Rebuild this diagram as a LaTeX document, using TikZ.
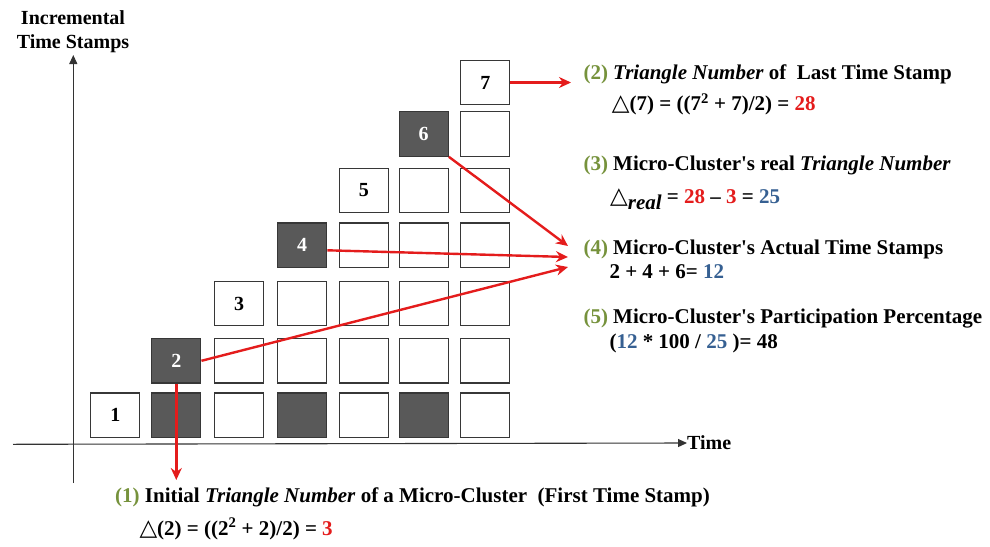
\documentclass[tikz,border=0pt]{standalone}
\usepackage{fontspec}
\setmainfont{Liberation Serif}[Ligatures=TeXOff]
\newfontfamily\djv{DejaVu Sans}
\usetikzlibrary{arrows.meta}
\definecolor{redA}{RGB}{228,28,28}
\definecolor{blueA}{RGB}{54,96,146}
\definecolor{greenA}{RGB}{118,146,60}
\definecolor{darkbox}{RGB}{89,89,89}
\definecolor{edgeC}{RGB}{55,55,55}
\newcommand{\tri}{{\djv\mdseries\fontsize{23}{23}\selectfont △}}
\begin{document}
\begin{tikzpicture}[x=1pt,y=-1pt,
  cell/.style={draw=edgeC, line width=1.3pt, minimum width=49pt, minimum height=44.5pt, inner sep=0pt, font=\fontsize{20}{20}\selectfont\bfseries},
  redarrow/.style={draw=redA, line width=2.4pt, -{Stealth[length=12pt,width=11pt]}},
  axis/.style={draw=black!80, line width=1.1pt, -{Triangle[length=9pt,width=8pt]}},
  txt/.style={anchor=base west, inner sep=0pt, font=\fontsize{21}{21}\selectfont\bfseries},
  ttl/.style={align=center, inner sep=0pt, font=\fontsize{20}{24}\selectfont\bfseries}]
\useasboundingbox (0,0) rectangle (990,546);
% axes and labels
\node[ttl] (title) at (73,32) {Incremental\\Time Stamps};
\node[anchor=west, inner sep=0pt, font=\fontsize{20}{20}\selectfont\bfseries] (time) at (687,443) {Time};
\coordinate (ybot) at (73.3,483);
\coordinate (xleft) at (13,444.3);
\draw[axis] (ybot) -- (73.3,55);
\draw[axis] (xleft) -- (time.west);
% cells
\foreach \c/\x in {1/115.3,2/176.3,3/239.2,4/302.2,5/363.8,6/423.7,7/485.3}{
  \foreach \r/\y in {1/415.2,2/360.8,3/303.5,4/245.3,5/190.5,6/133.9,7/82.5}{
    \ifnum\r>\c\relax\else
      \def\fc{white}\def\tc{black}
      \ifodd\c\else
        \ifnum\r=1 \def\fc{darkbox}\fi
        \ifnum\r=\c \def\fc{darkbox}\def\tc{white}\fi
      \fi
      \ifnum\r=\c \edef\lb{\c}\else\def\lb{}\fi
      \node[cell, fill=\fc, text=\tc] (b\c\r) at (\x,\y) {\lb};
    \fi
  }
}
% text blocks
\node[txt] (t2a) at (583.3,79.3) {\textcolor{greenA}{(2)} \textit{Triangle Number} of\ \ Last Time Stamp};
\node[txt] (t2b) at (611.7,110.7) {\tri(7) = ((7\textsuperscript{2} + 7)/2) = \textcolor{redA}{28}};
\node[txt] (t3a) at (583.3,170) {\textcolor{greenA}{(3)} Micro-Cluster's real \textit{Triangle Number}};
\node[txt] (t3b) at (610,203.3) {\tri\raisebox{-6pt}{\textit{real}} = \textcolor{redA}{28} – \textcolor{redA}{3} = \textcolor{blueA}{25}};
\node[txt] (t4a) at (583.3,254.3) {\textcolor{greenA}{(4)} Micro-Cluster's Actual Time Stamps};
\node[txt] (t4b) at (609.3,278.3) {2 + 4 + 6= \textcolor{blueA}{12}};
\node[txt] (t5a) at (583.3,323.3) {\textcolor{greenA}{(5)} Micro-Cluster's Participation Percentage};
\node[txt] (t5b) at (609.3,348.3) {(\textcolor{blueA}{12} * 100 / \textcolor{blueA}{25} )= 48};
\node[txt] (t1a) at (115,502.7) {\textcolor{greenA}{(1)} Initial \textit{Triangle Number} of a Micro-Cluster\ \ (First Time Stamp)};
\node[txt] (t1b) at (139.3,535) {\tri(2) = ((2\textsuperscript{2} + 2)/2) = \textcolor{redA}{3}};
% red arrows
\coordinate (e7) at (571,82.5);
\coordinate (e6) at (568,246);
\coordinate (e4) at (568,257);
\coordinate (e2) at (568,267);
\coordinate (e1) at (176.3,480);
\draw[redarrow] (b77.east) -- (e7);
\draw[redarrow] (b66.south east) -- (e6);
\draw[redarrow] ([yshift=-5pt]b44.east) -- (e4);
\draw[redarrow] (b22.east) -- (e2);
\draw[redarrow] (b22.south) -- (e1);
\end{tikzpicture}
\end{document}
